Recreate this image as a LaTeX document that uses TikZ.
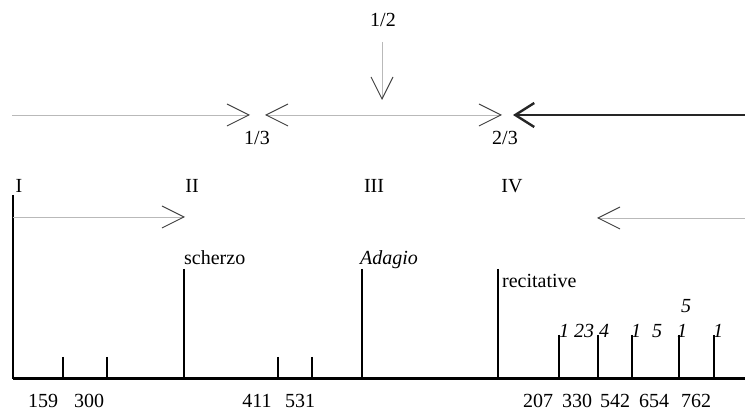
\documentclass[tikz,border=0pt]{standalone}
\usepackage{fontspec}
\setmainfont{Liberation Serif}
\usetikzlibrary{arrows.meta}
\tikzset{
  lbl/.style={inner sep=0pt, font=\fontsize{20}{24}\selectfont},
  ilbl/.style={inner sep=0pt, font=\fontsize{20}{24}\selectfont\itshape},
  faint/.style={draw=gray!55, line width=0.9pt},
  openhead/.style={-{Straight Barb[length=22pt,width=22pt,line width=0.9pt,color=black!75]}},
  bothheads/.style={{Straight Barb[length=22pt,width=22pt,line width=0.9pt,color=black!75]}-{Straight Barb[length=22pt,width=22pt,line width=0.9pt,color=black!75]}},
  thickhead/.style={draw=black!85, line width=2.6pt, -{Straight Barb[length=19pt,width=24pt,line width=2.4pt]}},
  bar/.style={draw=black, line width=2pt},
  axis/.style={draw=black, line width=3pt}
}
\begin{document}
\begin{tikzpicture}[x=1pt,y=-1pt]
\useasboundingbox (0,0) rectangle (745,411);
% top arrows
\coordinate (t0) at (12,115);
\coordinate (t1) at (250,115);
\coordinate (t2) at (265,115);
\coordinate (t3) at (502,115);
\coordinate (t4) at (513,115);
\coordinate (t5) at (745,115);
\coordinate (v0) at (382,42);
\coordinate (v1) at (382,100);
\draw[faint, openhead] (t0) -- (t1);
\draw[faint, bothheads] (t3) -- (t2);
\draw[thickhead] (t5) -- (t4);
\draw[faint, openhead] (v0) -- (v1);
\node[lbl, anchor=base] (half) at (383,27) {1/2};
\node[lbl, anchor=base] (third) at (257,145) {1/3};
\node[lbl, anchor=base] (twothird) at (505,145) {2/3};
% movements
\node[lbl, anchor=base] (mI) at (19,193) {I};
\node[lbl, anchor=base] (mII) at (192,193) {II};
\node[lbl, anchor=base] (mIII) at (374,193) {III};
\node[lbl, anchor=base] (mIV) at (512,193) {IV};
% axis
\coordinate (ax0) at (13,379);
\coordinate (ax1) at (745,379);
\draw[axis] (ax0) -- (ax1);
\coordinate (l0) at (13,195);
\draw[bar] (l0) -- (ax0);
% middle arrows
\coordinate (m0) at (13,217);
\coordinate (m1) at (185,217);
\coordinate (m2) at (745,218);
\coordinate (m3) at (597,218);
\draw[faint, openhead] (m0) -- (m1);
\draw[faint, openhead] (m2) -- (m3);
% long bars
\foreach \n/\x/\t in {sc/184/269, ad/362/269, re/498/269}{
  \coordinate (\n top) at (\x,\t);
  \coordinate (\n bot) at (\x,379);
  \draw[bar] (\n top) -- (\n bot);
}
\node[lbl, anchor=base west] (scherzo) at (184,265) {scherzo};
\node[ilbl, anchor=base west] (adagio) at (360,265) {Adagio};
\node[lbl, anchor=base west] (recit) at (502,288) {recitative};
% short ticks
\foreach \n/\x/\t in {k1/63/357, k2/107/357, k3/278/357, k4/312/357, k5/559/335, k6/598/335, k7/632/335, k8/679/335, k9/714/335}{
  \coordinate (\n top) at (\x,\t);
  \coordinate (\n bot) at (\x,379);
  \draw[bar] (\n top) -- (\n bot);
}
% italic numbers
\node[ilbl, anchor=base] (i1) at (564,338) {1};
\node[ilbl, anchor=base] (i2) at (584,338) {23};
\node[ilbl, anchor=base] (i3) at (604,338) {4};
\node[ilbl, anchor=base] (i4) at (636,338) {1};
\node[ilbl, anchor=base] (i5) at (657,338) {5};
\node[ilbl, anchor=base] (i6) at (682,338) {1};
\node[ilbl, anchor=base] (i7) at (718,338) {1};
\node[ilbl, anchor=base] (i8) at (686,313) {5};
% bottom numbers
\foreach \n/\x/\s in {b1/43/159, b2/89/300, b3/257/411, b4/300/531, b5/538/207, b6/577/330, b7/615/542, b8/654/654, b9/696/762}{
  \node[lbl, anchor=base] (\n) at (\x,408) {\s};
}
\end{tikzpicture}
\end{document}
